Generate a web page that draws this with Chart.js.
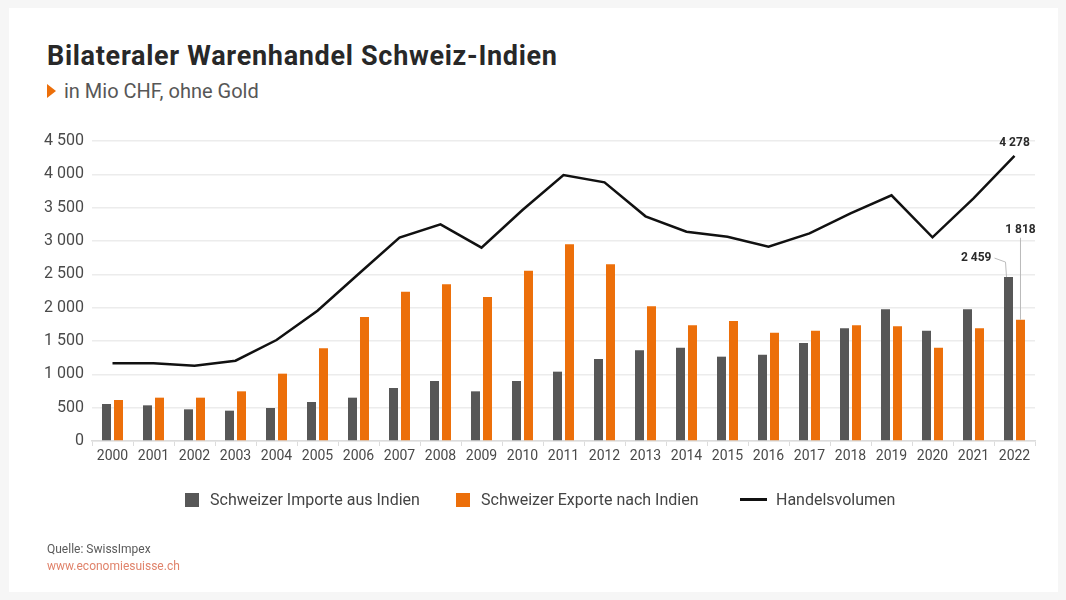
<!DOCTYPE html>
<html lang="de">
<head>
<meta charset="UTF-8">
<title>Bilateraler Warenhandel Schweiz-Indien</title>
<style>
  body{margin:0;background:#f6f6f6;font-family:Roboto,"Open Sans",sans-serif;}
  #card{position:absolute;left:9px;top:8px;width:1049px;height:584px;background:#fff;}
  #wrap{position:absolute;left:0;top:0;width:1066px;height:600px;}
  h1{position:absolute;left:47px;top:40px;margin:0;font-size:27px;font-weight:700;color:#282828;letter-spacing:0.7px;}
  .sub{position:absolute;left:47px;top:79px;font-size:20px;color:#575757;}
  .sub .tri{display:inline-block;width:0;height:0;border-top:7px solid transparent;border-bottom:7px solid transparent;border-left:9px solid #ec6f0a;margin-right:8px;vertical-align:0px;}
  .leg{position:absolute;top:491px;font-size:16px;color:#444;height:18px;line-height:18px;}
  .leg span.box{display:inline-block;width:14px;height:14px;vertical-align:-2px;margin-right:11px;}
  .leg span.ln{display:inline-block;width:27px;height:3px;background:#111;vertical-align:4px;margin-right:9px;}
  .src{position:absolute;left:47px;top:541px;font-size:12px;color:#5a5a5a;line-height:17px;}
  .src .url{color:#e0836b;}
  canvas{position:absolute;left:0;top:0;}
</style>
</head>
<body>
<div id="card"></div>
<div id="wrap">
  <h1>Bilateraler Warenhandel Schweiz-Indien</h1>
  <div class="sub"><span class="tri"></span>in Mio CHF, ohne Gold</div>
  <canvas id="chart" width="1066" height="600"></canvas>
  <div class="leg" style="left:185px"><span class="box" style="background:#575757"></span>Schweizer Importe aus Indien</div>
  <div class="leg" style="left:456px"><span class="box" style="background:#ec6f0a"></span>Schweizer Exporte nach Indien</div>
  <div class="leg" style="left:740px"><span class="ln"></span>Handelsvolumen</div>
  <div class="src">Quelle: SwissImpex<br><span class="url">www.economiesuisse.ch</span></div>
</div>

<script src="https://cdn.jsdelivr.net/npm/chart.js"></script>
<script>
const years=['2000','2001','2002','2003','2004','2005','2006','2007','2008','2009','2010','2011','2012','2013','2014','2015','2016','2017','2018','2019','2020','2021','2022']
const importe=[555,535,475,455,495,585,650,795,900,745,900,1040,1230,1360,1400,1265,1295,1470,1690,1975,1655,1975,2459]
const exporte=[615,650,650,745,1010,1390,1860,2240,2350,2160,2555,2950,2650,2020,1735,1800,1625,1655,1735,1720,1400,1690,1818]
const volumen=[1165,1165,1130,1205,1515,1955,2505,3050,3250,2900,3465,3990,3880,3370,3140,3065,2915,3115,3415,3685,3055,3640,4278]
const yTicks=[0,500,1000,1500,2000,2500,3000,3500,4000,4500]

function fmt(v){return String(v).replace(/\B(?=(\d{3})+(?!\d))/g,' ')}

// labels for the last year, with leader lines
const lastLabels={
  id:'lastLabels',
  afterDatasetsDraw(chart){
    const c=chart.ctx
    const n=years.length-1
    const imp=chart.getDatasetMeta(1).data[n]
    const exp=chart.getDatasetMeta(2).data[n]
    const vol=chart.getDatasetMeta(0).data[n]
    c.save()
    c.font='bold 12px Roboto'
    c.fillStyle='#2a2a2a'
    c.textAlign='center'
    c.textBaseline='middle'
    c.fillText(fmt(volumen[n]),vol.x,vol.y-13)
    // 1818
    c.fillText(fmt(exporte[n]),exp.x,exp.y-90)
    c.strokeStyle='#bbb'
    c.lineWidth=1
    c.beginPath()
    c.moveTo(exp.x,exp.y-82)
    c.lineTo(exp.x,exp.y)
    c.stroke()
    // 2459
    c.textAlign='right'
    c.fillText(fmt(importe[n]),imp.x-17,imp.y-19)
    c.beginPath()
    c.moveTo(imp.x-14,imp.y-19)
    c.lineTo(imp.x-3,imp.y-15)
    c.lineTo(imp.x-2,imp.y)
    c.stroke()
    c.restore()
  }
}

new Chart(document.getElementById('chart'),{
  data:{
    labels:years,
    datasets:[
      {type:'line',label:'Handelsvolumen',data:volumen,borderColor:'#111',borderWidth:2.5,pointRadius:0,tension:0,fill:false,order:0},
      {type:'bar',label:'Schweizer Importe aus Indien',data:importe,backgroundColor:'#575757',borderWidth:0,order:1},
      {type:'bar',label:'Schweizer Exporte nach Indien',data:exporte,backgroundColor:'#ec6f0a',borderWidth:0,order:1}
    ]
  },
  options:{
    responsive:false,
    animation:false,
    datasets:{bar:{categoryPercentage:0.585,barPercentage:0.75}},
    layout:{padding:{left:0,top:141,right:31,bottom:129}},
    plugins:{legend:{display:false},tooltip:{enabled:false}},
    scales:{
      x:{
        afterFit(s){s.height=30},
        grid:{offset:true,drawOnChartArea:false,drawTicks:true,tickLength:5,color:'#dcdcdc'},
        border:{display:true,color:'#dcdcdc',width:1.5},
        ticks:{padding:2,color:'#4a4a4a',font:{family:'Roboto',size:14}}
      },
      y:{
        min:0,max:4500,
        afterFit(s){s.width=92},
        afterBuildTicks(s){s.ticks=yTicks.map(v=>({value:v}))},
        grid:{drawTicks:false,color:'#ececec',lineWidth:1.5},
        border:{display:false},
        ticks:{padding:8,color:'#4a4a4a',font:{family:'Roboto',size:16},callback:v=>fmt(v)}
      }
    }
  },
  plugins:[lastLabels]
})
</script>
</body>
</html>
